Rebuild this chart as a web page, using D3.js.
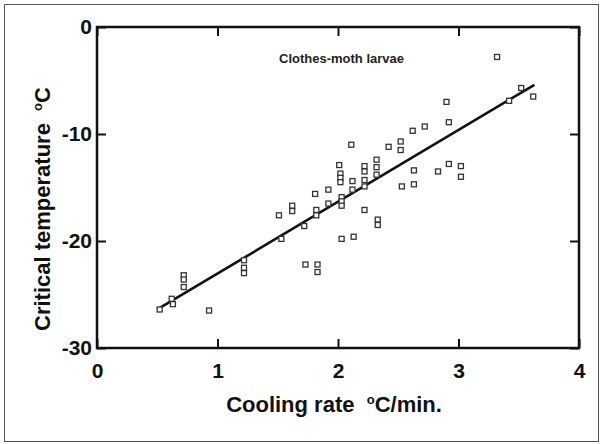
<!DOCTYPE html>
<html lang="en">
<head>
    <meta charset="UTF-8">
    <title>Clothes-moth larvae</title>
    <script src="https://d3js.org/d3.v7.min.js"></script>
    <style>
        body {
            margin: 0;
            background: #fff;
        }
        svg {
            font-family: Arial, "Liberation Sans", Helvetica, sans-serif;
        }
        .axis text {
            font-size: 21px;
            font-weight: bold;
            fill: #111;
        }
        .axis line {
            stroke: #111;
            stroke-width: 2px;
        }
        .axis .domain {
            display: none;
        }
        .pt {
            fill: #fff;
            stroke: #333;
            stroke-width: 1.3px;
        }
    </style>
</head>
<body>
    <svg id="chart" width="603" height="444"></svg>

    <script>
        // cooling rate (°C/min) and critical temperature (°C)
        const coolingRate = [
            0.52, 0.62, 0.63, 0.72, 0.72, 0.72, 0.93, 1.22, 1.22, 1.22,
            1.51, 1.53, 1.62, 1.62, 1.72, 1.73, 1.81, 1.82, 1.82, 1.83,
            1.83, 1.92, 1.92, 2.01, 2.02, 2.02, 2.02, 2.03, 2.03, 2.03,
            2.03, 2.11, 2.12, 2.12, 2.13, 2.22, 2.22, 2.22, 2.22, 2.22,
            2.32, 2.32, 2.32, 2.33, 2.33, 2.42, 2.52, 2.52, 2.53, 2.62,
            2.63, 2.63, 2.72, 2.83, 2.90, 2.92, 2.92, 3.02, 3.02, 3.32,
            3.42, 3.52, 3.62
        ];
        const critTemp = [
            -26.4, -25.4, -25.9, -23.2, -23.6, -24.3, -26.5, -21.8, -22.5, -23.0,
            -17.6, -19.8, -16.7, -17.2, -18.6, -22.2, -15.6, -17.1, -17.6, -22.2,
            -22.9, -15.2, -16.5, -12.9, -13.7, -14.1, -14.5, -15.9, -16.3, -16.7,
            -19.8, -11.0, -14.4, -15.2, -19.6, -13.0, -13.5, -14.3, -14.9, -17.1,
            -12.4, -13.1, -13.8, -18.0, -18.5, -11.2, -10.7, -11.5, -14.9, -9.7,
            -13.4, -14.7, -9.3, -13.5, -7.0, -8.9, -12.8, -13.0, -14.0, -2.8,
            -6.9, -5.7, -6.5
        ];

        // fitted line, end points
        const fitX = [0.5, 3.63];
        const fitY = [-26.4, -5.4];

        const xTicks = [0, 1, 2, 3, 4];
        const xTickLabels = ["0", "1", "2", "3", "4"];
        const yTicks = [0, -10, -20, -30];
        const yTickLabels = ["0", "-10", "-20", "-30"];

        const svg = d3.select("#chart");

        // outer picture border
        svg.append("rect")
            .attr("x", 4.5).attr("y", 4.5)
            .attr("width", 594).attr("height", 437)
            .attr("fill", "none")
            .attr("stroke", "#555")
            .attr("stroke-width", 1);

        const plotL = 97, plotR = 579, plotT = 27, plotB = 348;
        const x = d3.scaleLinear().domain([0, 4]).range([plotL, plotR]);
        const y = d3.scaleLinear().domain([-30, 0]).range([plotB, plotT]);

        // axes, ticks pointing inward
        svg.append("g")
            .attr("class", "axis")
            .attr("transform", `translate(0,${plotB})`)
            .call(d3.axisBottom(x).tickValues(xTicks)
                .tickFormat((d, i) => xTickLabels[i])
                .tickSizeInner(-9).tickSizeOuter(0).tickPadding(15));

        svg.append("g")
            .attr("class", "axis")
            .attr("transform", `translate(0,${plotT})`)
            .call(d3.axisTop(x).tickValues(xTicks).tickFormat("")
                .tickSizeInner(-9).tickSizeOuter(0));

        svg.append("g")
            .attr("class", "axis")
            .attr("transform", `translate(${plotL},0)`)
            .call(d3.axisLeft(y).tickValues(yTicks)
                .tickFormat((d, i) => yTickLabels[i])
                .tickSizeInner(-9).tickSizeOuter(0).tickPadding(5));

        svg.append("g")
            .attr("class", "axis")
            .attr("transform", `translate(${plotR},0)`)
            .call(d3.axisRight(y).tickValues(yTicks).tickFormat("")
                .tickSizeInner(-9).tickSizeOuter(0));

        // plot frame
        svg.append("rect")
            .attr("x", plotL).attr("y", plotT)
            .attr("width", plotR - plotL).attr("height", plotB - plotT)
            .attr("fill", "none")
            .attr("stroke", "#111")
            .attr("stroke-width", 2.5);

        // regression line
        svg.append("line")
            .attr("x1", x(fitX[0])).attr("y1", y(fitY[0]))
            .attr("x2", x(fitX[1])).attr("y2", y(fitY[1]))
            .attr("stroke", "#111")
            .attr("stroke-width", 2.6);

        // data points, small open squares
        const s = 5;
        svg.selectAll(".pt")
            .data(coolingRate.map((c, i) => [c, critTemp[i]]))
            .enter().append("rect")
            .attr("class", "pt")
            .attr("x", d => x(d[0]) - s / 2)
            .attr("y", d => y(d[1]) - s / 2)
            .attr("width", s)
            .attr("height", s);

        // annotation
        svg.append("text")
            .attr("x", 279).attr("y", 63)
            .style("font-size", "13px")
            .style("font-weight", "bold")
            .attr("fill", "#222")
            .text("Clothes-moth larvae");

        // axis titles
        const xt = svg.append("text")
            .attr("x", 334).attr("y", 412)
            .attr("text-anchor", "middle")
            .style("font-size", "22px")
            .style("font-weight", "bold")
            .attr("fill", "#111");
        xt.append("tspan").text("Cooling rate \u00a0");
        xt.append("tspan").attr("dy", -8).style("font-size", "13px").text("o");
        xt.append("tspan").attr("dy", 8).text("C/min.");

        const yt = svg.append("text")
            .attr("transform", "translate(50,209) rotate(-90)")
            .attr("text-anchor", "middle")
            .style("font-size", "22px")
            .style("font-weight", "bold")
            .attr("fill", "#111");
        yt.append("tspan").text("Critical temperature \u00a0");
        yt.append("tspan").attr("dy", -8).style("font-size", "13px").text("o");
        yt.append("tspan").attr("dy", 8).text("C");
    </script>
</body>
</html>
